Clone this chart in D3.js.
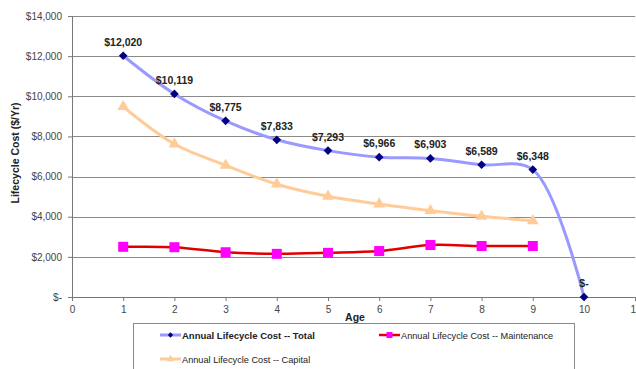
<!DOCTYPE html>
<html>
<head>
<meta charset="utf-8">
<script src="https://cdn.jsdelivr.net/npm/d3@7/dist/d3.min.js"></script>
<style>
  html, body { margin: 0; padding: 0; background: #fff; }
  svg { display: block; font-family: Arial, "Liberation Sans", sans-serif; }
</style>
</head>
<body>
<svg id="chart" width="636" height="369"></svg>
<script>
// Annual lifecycle cost by age
const ages = [1, 2, 3, 4, 5, 6, 7, 8, 9, 10];
const totalCost = [12020, 10119, 8775, 7833, 7293, 6966, 6903, 6589, 6348, 0];
const capitalAges = [1, 2, 3, 4, 5, 6, 7, 8, 9];
const capitalCost = [9480, 7620, 6560, 5620, 5020, 4630, 4300, 4020, 3800];
const maintenanceAges = [1, 2, 3, 4, 5, 6, 7, 8, 9];
const maintenanceCost = [2500, 2480, 2230, 2150, 2200, 2290, 2590, 2540, 2540];
const xTicks = [0, 1, 2, 3, 4, 5, 6, 7, 8, 9, 10, 11];
const yTicks = [0, 2000, 4000, 6000, 8000, 10000, 12000, 14000];
const seriesNames = [
  "Annual Lifecycle Cost -- Total",
  "Annual Lifecycle Cost -- Maintenance",
  "Annual Lifecycle Cost -- Capital"
];

const svg = d3.select("#chart");
const plotLeft = 72, plotRight = 635.2, plotTop = 16, plotBottom = 297;

const x = d3.scaleLinear().domain([0, 11]).range([plotLeft, plotRight]);
const y = d3.scaleLinear().domain([0, 14000]).range([plotBottom, plotTop]);

const money = v => v === 0 ? "$-" : "$" + d3.format(",")(v);

// horizontal gridlines
svg.append("g")
  .selectAll("line")
  .data(yTicks.filter(d => d > 0))
  .join("line")
  .attr("x1", plotLeft).attr("x2", plotRight)
  .attr("y1", d => Math.round(y(d)) + 0.5).attr("y2", d => Math.round(y(d)) + 0.5)
  .attr("stroke", "#8a8a8a").attr("stroke-width", 1);

// y axis
const yAxis = svg.append("g")
  .attr("transform", `translate(${plotLeft},0)`)
  .call(d3.axisLeft(y).tickValues(yTicks).tickFormat(money).tickSize(4).tickPadding(6));
yAxis.selectAll("text").attr("font-size", 10).attr("fill", "#444")
  .attr("font-family", "Arial, 'Liberation Sans', sans-serif");
yAxis.selectAll("line, path").attr("stroke", "#777");

// x axis
const xAxis = svg.append("g")
  .attr("transform", `translate(0,${plotBottom})`)
  .call(d3.axisBottom(x).tickValues(xTicks).tickFormat(d3.format("d")).tickSize(4).tickPadding(5));
xAxis.selectAll("text").attr("font-size", 10).attr("fill", "#444")
  .attr("font-family", "Arial, 'Liberation Sans', sans-serif");
xAxis.selectAll("line, path").attr("stroke", "#777");

// axis titles
svg.append("text")
  .attr("x", 355).attr("y", 321)
  .attr("text-anchor", "middle")
  .attr("font-size", 10.5).attr("font-weight", "bold").attr("fill", "#222")
  .text("Age");
svg.append("text")
  .attr("transform", "translate(19,153) rotate(-90)")
  .attr("text-anchor", "middle")
  .attr("font-size", 10.5).attr("font-weight", "bold").attr("fill", "#222")
  .text("Lifecycle Cost ($/Yr)");

const line = d3.line()
  .x(d => x(d[0])).y(d => y(d[1]))
  .curve(d3.curveCatmullRom.alpha(0.5));

const totalData = ages.map((a, i) => [a, totalCost[i]]);
const capitalData = capitalAges.map((a, i) => [a, capitalCost[i]]);
const maintData = maintenanceAges.map((a, i) => [a, maintenanceCost[i]]);

// capital
svg.append("path").datum(capitalData).attr("d", line)
  .attr("fill", "none").attr("stroke", "#ffcc99").attr("stroke-width", 3);
const tri = d3.symbol().type(d3.symbolTriangle).size(60);
svg.append("g").selectAll("path").data(capitalData).join("path")
  .attr("d", tri)
  .attr("transform", d => `translate(${x(d[0])},${y(d[1])})`)
  .attr("fill", "#ffcc99");

// maintenance
svg.append("path").datum(maintData).attr("d", line)
  .attr("fill", "none").attr("stroke", "#e00000").attr("stroke-width", 2.5);
svg.append("g").selectAll("rect").data(maintData).join("rect")
  .attr("x", d => x(d[0]) - 5).attr("y", d => y(d[1]) - 5)
  .attr("width", 10).attr("height", 10)
  .attr("fill", "#ff00ff");

// total
svg.append("path").datum(totalData).attr("d", line)
  .attr("fill", "none").attr("stroke", "#9999ff").attr("stroke-width", 3);
svg.append("g").selectAll("path").data(totalData).join("path")
  .attr("d", d3.symbol().type(d3.symbolSquare).size(38))
  .attr("transform", d => `translate(${x(d[0])},${y(d[1])}) rotate(45)`)
  .attr("fill", "#000080");

// value labels on the total series
svg.append("g").selectAll("text").data(totalData).join("text")
  .attr("x", d => x(d[0]))
  .attr("y", d => y(d[1]) - 10)
  .attr("text-anchor", "middle")
  .attr("font-size", 10.5).attr("font-weight", "bold").attr("fill", "#222")
  .text(d => money(d[1]));

// legend
const lg = svg.append("g");
lg.append("rect")
  .attr("x", 133.5).attr("y", 323.5).attr("width", 441).attr("height", 60)
  .attr("fill", "#fff").attr("stroke", "#888");

const legendItems = [
  { name: seriesNames[0], x: 160, y: 335, color: "#9999ff", mark: "diamond", mc: "#000080", bold: true, w: 3 },
  { name: seriesNames[1], x: 379, y: 335, color: "#e00000", mark: "square", mc: "#ff00ff", bold: false, w: 2.5 },
  { name: seriesNames[2], x: 160, y: 359, color: "#ffcc99", mark: "triangle", mc: "#ffcc99", bold: false, w: 3 }
];
legendItems.forEach(it => {
  const g = lg.append("g");
  g.append("line").attr("x1", it.x).attr("x2", it.x + 21)
    .attr("y1", it.y).attr("y2", it.y)
    .attr("stroke", it.color).attr("stroke-width", it.w);
  const cx = it.x + 10.5;
  if (it.mark === "diamond") {
    g.append("path").attr("d", d3.symbol().type(d3.symbolSquare).size(14))
      .attr("transform", `translate(${cx},${it.y}) rotate(45)`).attr("fill", it.mc);
  } else if (it.mark === "square") {
    g.append("rect").attr("x", cx - 3).attr("y", it.y - 3).attr("width", 6).attr("height", 6)
      .attr("fill", it.mc);
  } else {
    g.append("path").attr("d", d3.symbol().type(d3.symbolTriangle).size(24))
      .attr("transform", `translate(${cx},${it.y})`).attr("fill", it.mc);
  }
  g.append("text").attr("x", it.x + 22).attr("y", it.y + 3.5)
    .attr("font-size", it.bold ? 9.5 : 9.2).attr("font-weight", it.bold ? "bold" : "normal")
    .attr("fill", "#222")
    .text(it.name);
});
</script>
</body>
</html>
